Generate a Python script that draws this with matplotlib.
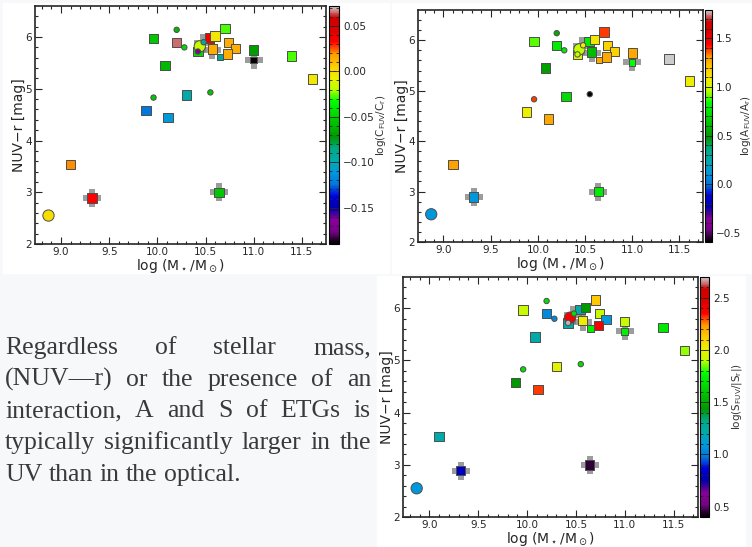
import matplotlib
matplotlib.use("Agg")
import matplotlib.pyplot as plt
import numpy as np

W, H = 752, 547

# --- data ----------------------------------------------------------------
log_mass = [8.87, 9.10, 9.32, 9.88, 9.96, 9.96, 10.08, 10.11, 10.20, 10.20,
            10.28, 10.30, 10.42, 10.42, 10.44, 10.48, 10.54, 10.60, 10.57, 10.70,
            10.74, 10.81, 10.73, 10.65, 10.64, 11.00, 11.00, 11.39, 11.61, 10.55]
nuv_r = [2.55, 3.54, 2.89, 4.58, 4.83, 5.97, 5.45, 4.44, 6.14, 5.90,
         5.80, 4.88, 5.72, 5.72, 5.82, 5.90, 5.98, 6.02, 5.77, 6.16,
         5.90, 5.78, 5.67, 5.61, 3.00, 5.75, 5.56, 5.63, 5.19, 4.93]
# marker kind: S big square, s small square, O big circle, o small circle
kind = ["O", "S", "S", "S", "o", "S", "S", "S", "o", "S",
        "o", "S", "S", "o", "O", "o", "S", "S", "S", "S",
        "S", "S", "S", "s", "S", "S", "s", "S", "S", "o"]
# interacting objects (grey plus behind)
plus_x = [9.32, 10.57, 10.64, 11.00, 10.47]
plus_y = [2.89, 5.74, 3.00, 5.56, 5.88]

log_c = [0.00, 0.02, 0.033, -0.124, -0.054, -0.054, -0.06, -0.111, -0.06, 0.065,
         -0.046, -0.098, -0.046, -0.169, -0.017, -0.096, 0.038, -0.004, 0.014, -0.028,
         0.014, 0.014, 0.014, -0.093, -0.054, -0.07, -0.19, -0.028, -0.004, -0.054]
log_a = [0.12, 1.29, 0.12, 1.08, 1.39, 0.89, 0.50, 1.27, 0.55, 0.77,
         0.77, 0.72, 1.03, 0.98, 0.98, 1.08, 0.77, 1.10, 0.60, 1.39,
         1.17, 1.17, 1.27, 1.27, 0.77, 1.27, 0.84, 1.79, 1.08, -0.60]
log_s = [1.09, 1.21, 0.81, 1.44, 1.67, 1.92, 1.21, 2.31, 1.67, 1.04,
         1.04, 1.99, 1.21, 2.68, 2.38, 1.67, 1.23, 1.44, 2.01, 2.13,
         1.92, 1.09, 2.38, 1.73, 0.45, 1.92, 1.73, 1.71, 1.87, 1.67]

panels = [
    dict(c=log_c, vmin=-0.19, vmax=0.072, ticks=[-0.15, -0.10, -0.05, 0.00, 0.05],
         fmt="{:.2f}", label=r"log(C$_{\rm FUV}$/C$_{\rm r}$)", label_x=381,
         ax=(35, 6, 326, 244), cax=(329, 6, 339, 244), bg=(3, 3, 389, 273)),
    dict(c=log_a, vmin=-0.59, vmax=1.79, ticks=[-0.5, 0.0, 0.5, 1.0, 1.5],
         fmt="{:.1f}", label=r"log(A$_{\rm FUV}$/A$_{\rm r}$)", label_x=746,
         ax=(418, 10, 703, 242), cax=(705, 10, 712, 242), bg=(392, 3, 752, 273)),
    dict(c=log_s, vmin=0.40, vmax=2.70, ticks=[0.5, 1.0, 1.5, 2.0, 2.5],
         fmt="{:.1f}", label=r"log(S$_{\rm FUV}$/|S$_{\rm r}$|)", label_x=737,
         ax=(403, 277, 698, 517), cax=(700, 277, 709, 517), bg=(377, 276, 745, 547)),
]

text_lines = ["Regardless of stellar mass,",
              "(NUV\u2014r) or the presence of an",
              "interaction, A and S of ETGs is",
              "typically significantly larger in the",
              "UV than in the optical."]


def box(x0, y0, x1, y1):
    return [x0 / W, 1 - y1 / H, (x1 - x0) / W, (y1 - y0) / H]


fig = plt.figure(figsize=(W / 100, H / 100), dpi=100, facecolor="#f7f8fa")

x = np.array(log_mass)
y = np.array(nuv_r)
kind = np.array(kind)
sizes = {"S": 46, "s": 22, "O": 66, "o": 15}
markers = {"S": "s", "s": "s", "O": "o", "o": "o"}

for p in panels:
    b = box(*p["bg"])
    fig.patches.append(plt.Rectangle(b[:2], b[2], b[3], transform=fig.transFigure,
                                     color="white", zorder=-5))
    ax = fig.add_axes(box(*p["ax"]))
    ax.scatter(plus_x, plus_y, marker="P", s=180, color="0.45", alpha=0.7,
               linewidths=0, zorder=1)
    c = np.array(p["c"])
    sc = None
    for k in ["S", "s", "O", "o"]:
        m = kind == k
        sc = ax.scatter(x[m], y[m], c=c[m], cmap="nipy_spectral", vmin=p["vmin"],
                        vmax=p["vmax"], marker=markers[k], s=sizes[k],
                        edgecolors="0.3", linewidths=0.7, zorder=2)
    ax.set_xlim(8.73, 11.75)
    ax.set_ylim(2, 6.6)
    ax.set_xticks([9.0, 9.5, 10.0, 10.5, 11.0, 11.5])
    ax.set_xticks(np.arange(8.8, 11.75, 0.1), minor=True)
    ax.set_yticks([2, 3, 4, 5, 6])
    ax.set_yticks(np.arange(2, 6.6, 0.2), minor=True)
    ax.tick_params(which="both", direction="in", top=True, right=True,
                   labelsize=7.5, width=0.8, colors="0.15")
    ax.tick_params(which="major", length=5, pad=2)
    ax.tick_params(which="minor", length=2.5)
    ax.set_xlabel(r"log (M$_\star$/M$_\odot$)", fontsize=10, labelpad=0, color="0.15")
    ax.set_ylabel("NUV\u2212r [mag]", fontsize=10, labelpad=0, color="0.15")
    for sp in ax.spines.values():
        sp.set_linewidth(1.2)
        sp.set_color("0.15")

    cax = fig.add_axes(box(*p["cax"]))
    cb = fig.colorbar(sc, cax=cax)
    cb.set_ticks(p["ticks"])
    cb.set_ticklabels([p["fmt"].format(t).replace("-", "\u2212") for t in p["ticks"]])
    cax.minorticks_on()
    cax.tick_params(which="both", direction="in", labelsize=7.5, width=0.6,
                    colors="0.15", left=True)
    cax.tick_params(which="major", length=4, pad=3)
    cax.tick_params(which="minor", length=2)
    cb.outline.set_linewidth(0.8)
    cb.set_label(p["label"], fontsize=7.5, color="0.2", va="center")
    cx0, cx1 = p["cax"][0], p["cax"][2]
    cax.yaxis.set_label_coords((p["label_x"] - cx0) / (cx1 - cx0), 0.5)

# --- justified paragraph on the left --------------------------------------
renderer = fig.canvas.get_renderer()
fs = 18.5
left, right = 5, 371
base0, step = 354, 31.7
font = dict(family="Liberation Serif", fontsize=fs, color="#3a3a3a")


def text_w(s):
    t = fig.text(0, 0, s, **font)
    w = t.get_window_extent(renderer).width
    t.remove()
    return w


# shrink the font until the longest line fits the column
while max(text_w(l) for l in text_lines) > right - left - 4:
    fs -= 0.25
    font["fontsize"] = fs

space = text_w("a b") - text_w("ab")
for i, line in enumerate(text_lines):
    words = line.split(" ")
    widths = [text_w(w) for w in words]
    if i < len(text_lines) - 1 and len(words) > 1:
        gap = (right - left - sum(widths)) / (len(words) - 1)
    else:
        gap = space
    xp = left
    yb = base0 + i * step
    for w, wd in zip(words, widths):
        fig.text(xp / W, 1 - yb / H, w, va="baseline", ha="left", zorder=5, **font)
        xp += wd + gap

fig.savefig("out.png", dpi=100, facecolor=fig.get_facecolor())
